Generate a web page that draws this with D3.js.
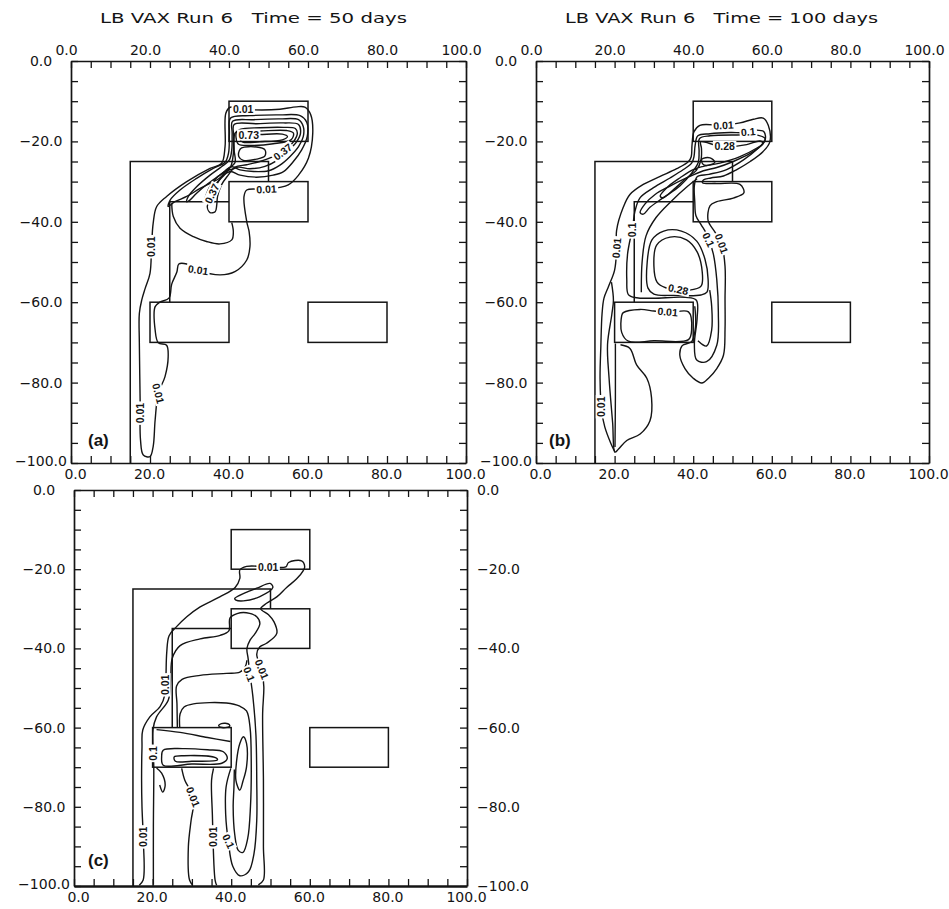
<!DOCTYPE html>
<html><head><meta charset="utf-8">
<script src="https://cdn.jsdelivr.net/npm/d3@7"></script>
<style>
html,body{margin:0;padding:0;background:#fff;}
svg{display:block;}
</style></head><body>
<svg id="chart" width="949" height="909"></svg>
<script>
// ---------------- data ----------------
const titles = ["LB VAX Run 6   Time = 50 days", "LB VAX Run 6   Time = 100 days"];
const panelTags = ["(a)", "(b)", "(c)"];
const xTicks = d3.range(0, 101, 5);
const yTicks = d3.range(0, -101, -5);
const xTickLabels = ["0.0", "20.0", "40.0", "60.0", "80.0", "100.0"];
const yTickLabels = ["0.0", "\u221220.0", "\u221240.0", "\u221260.0", "\u221280.0", "\u2212100.0"];

// geometry (model domain, same in each panel)
const outerWall = [[15,-100],[15,-25],[50,-25],[50,-30]];
const stepWall = [[40,-35],[25,-35],[25,-60]];
const blocks = [[40,-10,60,-20],[40,-30,60,-40],[20,-60,40,-70],[60,-60,80,-70]];

// ---- panel (a): 50 days ----
const aC1 = [[20,-98.4],[18.3,-98],[17.6,-94.3],[17.5,-84.3],[17.3,-70],[17.3,-62.8],[17.9,-59.5],[18.8,-56.5],[20,-52.8],[20.4,-46.2],[20.8,-40.4],[21.7,-36.2],[24.2,-33.7],[29.3,-30],[35.2,-26.7],[38.1,-25.5],[39,-21.3],[39.2,-13],[40.3,-11.5],[43.6,-12],[48.3,-12.2],[52.9,-12],[57.1,-11.4],[59.2,-11.5],[60.7,-13.4],[61.2,-18],[60.1,-24.2],[57.6,-28.4],[55,-30.8],[49.5,-31.9],[44.5,-32.1],[43.8,-33.7],[44.5,-40],[45.1,-42.5],[45.3,-46.2],[44.5,-49.5],[41.5,-52.4],[37.7,-53.2],[32.2,-52],[29.3,-50.5],[27.3,-50.5],[26.8,-52.5],[25.5,-55.5],[24.8,-59],[22.5,-60],[21.3,-61.1],[21.3,-66.9],[22.1,-70.1],[24.2,-70.7],[24.6,-73.6],[23.8,-78.5],[22.1,-82.7],[21.3,-89.3],[20.8,-95.9]];
const aF1 = [[40.4,-14.2],[45.3,-13.6],[52.9,-13.4],[58,-13.6],[59.7,-15.3],[59.8,-18.8],[58.4,-22.1],[56.3,-25],[53.8,-27.5],[51.2,-28.4],[47,-28.9],[42.8,-28.4],[40.3,-27.5],[36.9,-29.6],[32.7,-31.7],[29.3,-33.7],[26.3,-35],[24.6,-36.2],[25.1,-34.6],[27.6,-32.1],[31.8,-29.2],[36,-26.7],[39,-25.2],[39.9,-22.8],[40.1,-18]];
const aF2 = [[40.9,-15],[46.2,-14.6],[52.9,-14.4],[57.6,-14.6],[58.8,-16.3],[58.8,-18.8],[57.6,-21.3],[55.4,-23.8],[52.9,-25.9],[50,-27.3],[46.2,-27.5],[42.8,-27.1],[40.7,-26.3],[37.7,-28.4],[34.3,-30.8],[31.8,-32.9],[30.1,-34.6],[29.3,-35],[29.7,-33.7],[31.8,-31.3],[35.2,-28.4],[38.1,-26.3],[40.1,-24.6],[40.7,-22.1],[40.8,-18]];
const aF3 = [[41.3,-15.8],[47,-15.6],[53.8,-15.4],[57.6,-15.8],[58.1,-18],[57.1,-20.1],[55,-22.3],[52.1,-24.8],[49.1,-26.2],[45.3,-26.8],[42.4,-26.4],[40.9,-26.9],[38.6,-27.7],[36,-30],[34.2,-33.3],[33.9,-35],[34.8,-33.7],[36.5,-30.8],[39,-28.1],[40.5,-26.1],[41.1,-23],[41.2,-18.8]];
const aF4 = [[41.5,-25.3],[39.4,-27.1],[37.3,-30],[36,-32.5],[35.2,-34.6],[34.5,-36.2],[35.2,-37.7],[36.5,-37.5],[36.9,-35.8],[37.1,-33.7],[38.1,-30.8],[39.8,-28.4],[41.5,-26.4],[44.5,-25.8],[47.8,-25],[51.2,-23.8],[53.8,-22.3],[56.3,-20.1],[57.3,-18],[56.8,-16.8],[53.8,-16.5],[47.8,-16.6],[42.8,-17],[41.5,-18],[41.3,-22.1]];
const aF5 = [[42,-17.6],[47.8,-17.4],[54.6,-17.3],[56.3,-17.9],[55.8,-19.5],[51.2,-20.6],[45.3,-21],[42.4,-20.7],[41.8,-19.2]];
const aF6 = [[43,-18.5],[47.8,-18.3],[53.5,-18.2],[54.8,-18.8],[53.5,-19.6],[47.8,-20.1],[43.5,-20.2],[42.8,-19.5]];
const aBlob = [[43.2,-21.6],[47,-21.4],[49.1,-22.1],[49.1,-23.6],[47,-24.4],[43.6,-24.7],[42.5,-23.8],[42.6,-22.3]];
const aBulb = [[25.5,-35.4],[25.9,-38.7],[27.6,-41.6],[31,-43.7],[34.3,-44.9],[37.7,-45.5],[40.7,-44.5],[41.1,-42.5],[40.7,-40.2]];
const aLabels = [[43.6,-12,"0.01",0],[45,-18.4,"0.73",0],[35.7,-33,"0.37",-65],[53.6,-22.6,"0.37",-38],[49.5,-31.9,"0.01",-3],[32.2,-52,"0.01",8],[20.4,-46.2,"0.01",-90],[17.5,-87.6,"0.01",-90],[22.1,-82.7,"0.01",75]];

// ---- panel (b): 100 days ----
const bC1 = [[20.1,-97.3],[19,-95],[17.5,-91],[16.7,-87],[16.3,-79],[16.5,-71],[16.8,-63],[17.3,-59],[18.5,-56],[20,-52],[20.5,-47],[20.5,-42.2],[22.2,-36.4],[23.9,-33.2],[27.3,-30.7],[31.6,-28.7],[35.8,-26.8],[38.8,-25],[39.5,-23.8],[39.7,-20.9],[40.2,-17.6],[41.7,-16],[47.7,-16],[51.9,-15.4],[55.3,-14.5],[57.8,-14.2],[59.1,-16],[59.5,-20.1],[57.8,-22.5],[54.5,-25],[51.1,-27],[47.7,-28.6],[44.5,-29.1],[42.6,-29.6],[42.4,-30.3],[46,-30.5],[51.9,-30.7],[52.9,-32.8],[50.2,-34.1],[46,-35],[44.3,-36],[43.8,-39.7],[45.5,-42.5],[47.2,-45.4],[48.1,-51.1],[48.1,-59.3],[48.1,-66.7],[47.7,-73.2],[46,-76.5],[43.9,-78.9],[42.2,-80.1],[40,-78.9],[37.9,-76.5],[36.6,-73.2],[37.2,-70.8],[39.6,-69.8],[40.6,-66],[40.4,-61]];
const bC2 = [[56.1,-22.1],[52.8,-24.6],[48.5,-27],[44,-28.2],[41,-28.8],[40.3,-31],[40.4,-35],[40.7,-38.5],[42,-40.7],[43.6,-43.4],[45.1,-47.9],[46,-54.4],[46.4,-62.6],[46,-70.7],[43.4,-74.8],[40.9,-74.4],[40.3,-70.5],[41,-64],[40.8,-59.5],[38,-58.8],[30,-59],[25.6,-58.9],[23.5,-58.1],[23.1,-54.4],[23.3,-48],[24.6,-41.3],[25.2,-37.3],[26.5,-34],[29.9,-31.5],[34.1,-29.1],[37.5,-27],[39.6,-25.4],[40.2,-23.8],[40.5,-20.9],[41.2,-18.6],[44.3,-18.1],[49.4,-17.8],[53,-17.8],[56.2,-17.2],[58,-17.6],[58.3,-19.7]];
const bC3 = [[30,-51],[30.7,-45.8],[34.1,-43.8],[38.3,-44.5],[41,-47.5],[42.3,-52.5],[42,-56],[39,-57],[36.2,-56.8],[33,-56.4],[30.8,-55]];
const bC4 = [[28.5,-56.5],[28.3,-50],[29.5,-44.5],[32.5,-42.3],[37,-42.3],[40.9,-44.8],[43,-49.3],[43.8,-54.4],[43.5,-57.5],[42,-58.2],[35,-58.3],[30,-58]];
const bF1 = [[41.6,-19.3],[44.3,-18.6],[51.1,-18.4],[56.6,-18.5],[58.3,-19.3],[57.4,-20.9],[54.5,-23],[50.2,-25],[46,-26.5],[42.6,-27.3],[38.3,-29.1],[34.1,-31.1],[30.3,-33.2],[27.7,-35.6],[26.5,-37.7],[27.3,-38.1],[29,-36.4],[32.4,-34],[36.6,-31.1],[39.6,-27.9],[41.3,-25.2],[41.5,-22.5]];
const bF2 = [[41.9,-20.1],[46,-21],[49,-21.3],[53.6,-20.8],[57,-19.9],[57.8,-20.5],[56.1,-21.7],[51.9,-23.8],[46.8,-25.4],[42.6,-26.2],[40,-27],[36.6,-29.1],[33.3,-31.5],[31.6,-33.6],[32.4,-34],[35,-32],[38.3,-29.1],[40.8,-27.2],[42,-24.5],[42.1,-21.7]];
const bNeck = [[42.2,-24.4],[44.3,-24.1],[45.5,-25.2],[43.4,-26],[42.4,-25.6]];
const bF4 = [[26.8,-57.5],[27,-50],[28,-43.5],[30.5,-39],[34.5,-34.8],[38.5,-31.2],[41,-29.3]];
const bBox3 = [[22.2,-62.6],[26.5,-61.8],[30,-62.2],[33.7,-62.6],[38.8,-62.4],[39.6,-66.7],[38.8,-69.3],[30,-69.6],[23.5,-69.7],[21.8,-67.5],[21.8,-63.4]];
const bSub = [[19.2,-55],[19.7,-59.5],[19.3,-63],[18.2,-70.5],[18.6,-79],[19.5,-90],[20.1,-97.3],[21,-96.5],[23.1,-94.4],[26.5,-92.8],[29,-89.5],[29.4,-83.8],[28.2,-78.9],[25.6,-75.6],[23.9,-71.5],[21.5,-70.6]];
const bV = [[20.2,-70.3],[20.2,-84],[20.1,-96]];
const bInner = [[41.2,-69.6],[43.4,-70.9],[44.7,-66.9],[44.7,-61],[44.2,-57]];
const bLabels = [[47.7,-16,"0.01",-3],[54,-17.6,"0.1",-5],[48,-21.2,"0.28",0],[20.5,-46.5,"0.01",-85],[24.6,-42,"0.1",-90],[43.9,-44.5,"0.1",65],[47.2,-45.4,"0.01",70],[36.2,-56.8,"0.28",12],[33.5,-62.4,"0.01",5],[16.6,-86,"0.01",-90]];

// ---- panel (c) ----
const cC1 = [[16.6,-99.8],[17.6,-98.5],[17.6,-87.6],[17.3,-80],[17.2,-73.3],[17.3,-65],[17.5,-60.6],[19.3,-57.3],[21.9,-54.7],[23.2,-51.4],[23.4,-47],[23.6,-41],[24.2,-36.8],[26.1,-34.5],[28.7,-32],[32.1,-29.5],[37.1,-27],[41,-24.6],[42.2,-22.3],[42.2,-20.2],[43.9,-19.3],[49.4,-19.4],[53.9,-19.4],[54.6,-18.3],[57.9,-17.9],[58.7,-19.4],[58.3,-20.4],[56.6,-22.5],[54.1,-24.6],[51.6,-27],[49,-28.6],[47.5,-30],[49.5,-31.5],[50.9,-33.3],[51.6,-36.2],[49,-38.7],[47.3,-39.6],[46.5,-41.5],[47.8,-45.5],[48.3,-49.7],[48,-56.4],[48.2,-73.3],[48.2,-90.1],[48.2,-98.5],[46.9,-99.7]];
const cC2 = [[20.2,-99.7],[20.2,-85],[20.3,-70],[20.1,-60.5],[21,-57.3],[24,-53],[24.6,-48],[25,-42.5],[27,-39.3],[32.1,-37.6],[37.2,-36.7],[39.4,-35.6],[39.7,-32.3],[41.5,-31.2],[43.9,-31],[46.5,-32],[47.3,-33.7],[46.1,-36.2],[44.8,-37.9],[44,-40],[44.3,-42.5],[44.8,-46.7],[45.5,-52],[46.3,-62],[46.5,-73.3],[46.5,-83.4],[45.8,-91.8],[44.4,-96.4],[42.2,-97.4],[40.4,-95],[39.3,-89],[38.6,-82],[38.7,-75],[39.9,-70.3]];
const cC3 = [[26.3,-59.9],[26.2,-54],[26.1,-49.5],[27.5,-47.8],[32.1,-46.8],[38.8,-46.3],[42.2,-46],[43.6,-44.6],[44,-43]];
const cC4 = [[26.9,-59.9],[27,-56.5],[28,-54.8],[30.4,-54],[38.8,-53.8],[42.2,-54.6],[43.9,-55.8],[44.8,-60],[45.1,-69],[44.9,-80],[44.2,-88],[43,-91.5],[41.8,-91],[40.9,-87],[40.5,-80],[40.7,-75],[40.8,-70.6]];
const cC5 = [[42.2,-64],[43.1,-62.3],[43.9,-64],[43.9,-69.9],[43,-73.5],[42.2,-75.8],[41.2,-73.3],[41.4,-68.2]];
const cC6 = [[21,-60.5],[27,-61.2],[34,-62.5],[39.8,-63.5]];
const cC7 = [[22.7,-65.7],[27.8,-65.3],[34,-65.6],[38,-66.1],[39,-67.8],[37.6,-69],[30,-69.2],[22.7,-69.5],[22.3,-67.4]];
const cC8 = [[25.5,-67.4],[28,-67.1],[36,-67.6],[36.5,-68.2],[30,-68.5],[25.8,-68.5]];
const cC9 = [[36.8,-59.5],[37.5,-59.0],[38.5,-58.9],[39.5,-59.2],[39.6,-59.7],[38.5,-60],[37.3,-59.9]];
const cC10 = [[27.4,-70.3],[28.2,-73.3],[29.5,-75.8],[30.4,-79.1],[29.8,-83.4],[29.1,-90.1],[29.4,-98.5],[30.2,-99.8]];
const cC11 = [[35.5,-70.3],[35,-73.3],[35.2,-81.7],[35.9,-98.5],[36.3,-99.8]];
const cC12 = [[21,-70.2],[22.3,-71.5],[23.2,-74.5],[22.6,-76.3],[21.8,-74.5]];
const cC13 = [[40.9,-27.4],[43.5,-26],[46.5,-24.8],[49.9,-23.6],[50.6,-24.6],[47.3,-26.9],[43.1,-28],[41.2,-27.8]];
const cLabels = [[49.4,-19.4,"0.01",0],[23.2,-49.2,"0.01",-90],[17.6,-87.6,"0.01",-90],[47.8,-45.3,"0.01",68],[44.6,-46.5,"0.1",68],[30.3,-77.5,"0.01",68],[35.4,-87.6,"0.01",-90],[39.3,-88.7,"0.1",65],[20.2,-66.5,"0.1",-90]];

// ---------------- drawing ----------------
const svg = d3.select("#chart");
const FONT = "'DejaVu Sans', Verdana, sans-serif";
const INK = "#141414";

const panels = [
  {L:{x0:71,x1:466,y0:61,y1:463}, tag:panelTags[0], tagXY:[88,446], ax:{top:true,bottom:true,left:true,right:false},
   open:[aBulb], closed:[aC1,aF1,aF2,aF3,aF4,aF5,aF6,aBlob], labels:aLabels},
  {L:{x0:536,x1:929,y0:61,y1:463}, tag:panelTags[1], tagXY:[549,446], ax:{top:true,bottom:true,left:true,right:false},
   open:[bC1,bF4,bSub,bV,bInner], closed:[bC2,bC3,bC4,bF1,bF2,bNeck,bBox3], labels:bLabels},
  {L:{x0:74,x1:467,y0:490,y1:886}, tag:panelTags[2], tagXY:[88,866], ax:{top:false,bottom:true,left:true,right:true},
   open:[cC1,cC2,cC3,cC4,cC6,cC10,cC11,cC12], closed:[cC5,cC7,cC8,cC9,cC13], labels:cLabels}
];

function drawPanel(p, idx){
  const g = svg.append("g");
  const x = d3.scaleLinear().domain([0,100]).range([p.L.x0,p.L.x1]);
  const y = d3.scaleLinear().domain([0,-100]).range([p.L.y0,p.L.y1]);
  const straight = d3.line().x(d=>x(d[0])).y(d=>y(d[1]));
  const openLine = d3.line().x(d=>x(d[0])).y(d=>y(d[1])).curve(d3.curveCatmullRom.alpha(0.5));
  const closedLine = d3.line().x(d=>x(d[0])).y(d=>y(d[1])).curve(d3.curveCatmullRomClosed.alpha(0.5));

  // geometry
  [outerWall, stepWall].forEach(w => g.append("path").attr("d", straight(w))
    .attr("fill","none").attr("stroke",INK).attr("stroke-width",1.5));
  blocks.forEach(b => g.append("rect")
    .attr("x", x(b[0])).attr("y", y(b[1]))
    .attr("width", x(b[2]) - x(b[0])).attr("height", y(b[3]) - y(b[1]))
    .attr("fill","none").attr("stroke",INK).attr("stroke-width",1.5));

  // contours
  p.closed.forEach(c => g.append("path").attr("d", closedLine(c))
    .attr("fill","none").attr("stroke",INK).attr("stroke-width",1.4).attr("stroke-linejoin","round"));
  p.open.forEach(c => g.append("path").attr("d", openLine(c))
    .attr("fill","none").attr("stroke",INK).attr("stroke-width",1.4).attr("stroke-linejoin","round"));

  // contour labels
  p.labels.forEach(([lx,ly,t,r]) => {
    const lg = g.append("g").attr("transform", `translate(${x(lx)},${y(ly)}) rotate(${r})`);
    const rect = lg.append("rect").attr("fill","#fff");
    const tx = lg.append("text").text(t)
      .attr("text-anchor","middle").attr("dy","0.36em")
      .attr("font-family","'Liberation Sans', Arial, sans-serif")
      .attr("font-weight","bold").attr("font-size",10.5).attr("fill",INK);
    const w = tx.node().getComputedTextLength();
    rect.attr("x", -w/2 - 1.5).attr("y", -5.5).attr("width", w + 3).attr("height", 11);
  });

  // axes (frame with inward ticks)
  const xFmt = on => d => (on && d % 20 === 0) ? xTickLabels[d/20] : "";
  const yFmt = on => d => (on && d % 20 === 0) ? yTickLabels[Math.abs(d)/20] : "";
  const styleAxis = sel => {
    sel.select(".domain").attr("stroke",INK).attr("stroke-width",1.7);
    sel.selectAll(".tick line").attr("stroke",INK).attr("stroke-width",1.3);
    sel.selectAll("text").attr("font-family",FONT).attr("font-size",14).attr("fill",INK);
  };
  const top = g.append("g").attr("transform",`translate(0,${p.L.y0})`)
    .call(d3.axisTop(x).tickValues(xTicks).tickSize(-7).tickSizeOuter(0).tickPadding(6).tickFormat(xFmt(p.ax.top)));
  styleAxis(top); top.selectAll("text").attr("dx",-5);
  const bot = g.append("g").attr("transform",`translate(0,${p.L.y1})`)
    .call(d3.axisBottom(x).tickValues(xTicks).tickSize(-7).tickSizeOuter(0).tickPadding(6).tickFormat(xFmt(p.ax.bottom)));
  styleAxis(bot); bot.selectAll("text").attr("dx", d => d === 0 ? 4 : -1);
  if (idx === 2) bot.select(".domain").attr("stroke-width",2.6);
  const left = g.append("g").attr("transform",`translate(${p.L.x0},0)`)
    .call(d3.axisLeft(y).tickValues(yTicks).tickSize(-7).tickSizeOuter(0).tickPadding(6).tickFormat(yFmt(p.ax.left)));
  styleAxis(left);
  left.selectAll("text").attr("text-anchor","middle").attr("x",-30)
    .attr("dy", d => d === -100 ? "0.2em" : "0.32em");
  const right = g.append("g").attr("transform",`translate(${p.L.x1},0)`)
    .call(d3.axisRight(y).tickValues(yTicks).tickSize(-7).tickSizeOuter(0).tickPadding(10).tickFormat(yFmt(p.ax.right)));
  styleAxis(right); right.selectAll("text").attr("text-anchor","start").attr("x",10);

  // panel tag
  g.append("text").attr("x",p.tagXY[0]).attr("y",p.tagXY[1]).text(p.tag)
    .attr("font-family","'Liberation Sans', Arial, sans-serif").attr("font-weight","bold")
    .attr("font-size",17).attr("fill",INK);
}
panels.forEach(drawPanel);

// titles
[[100,307],[565,313]].forEach(([tx,tw],i) => {
  svg.append("text").attr("x",tx).attr("y",23).text(titles[i])
    .attr("font-family",FONT).attr("font-size",14).attr("fill",INK)
    .attr("textLength",tw).attr("lengthAdjust","spacingAndGlyphs")
    .style("white-space","pre");
});
</script>
</body></html>
